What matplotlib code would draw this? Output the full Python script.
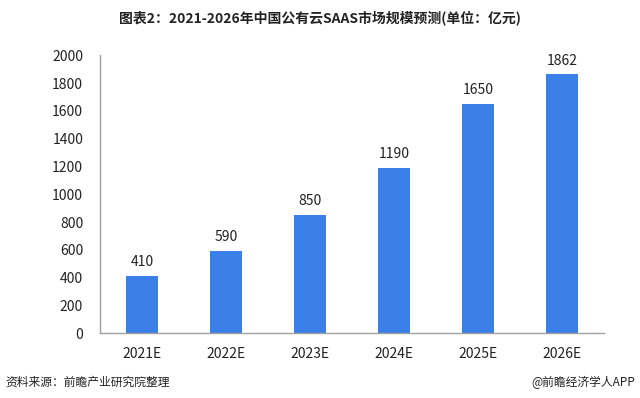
import matplotlib
matplotlib.use("Agg")
from matplotlib import pyplot as plt

plt.rcParams['font.family'] = ['Noto Sans CJK SC', 'DejaVu Sans']

years = ["2021E", "2022E", "2023E", "2024E", "2025E", "2026E"]
market_size = [410, 590, 850, 1190, 1650, 1862]
y_ticks = [0, 200, 400, 600, 800, 1000, 1200, 1400, 1600, 1800, 2000]

fig = plt.figure(figsize=(6.4, 3.98), dpi=100)
ax = fig.add_axes([0.156, 0.163, 0.7875, 0.698])

x = list(range(len(years)))
bars = ax.bar(x, market_size, width=0.38, color="#3a80e8")
for xi, v in zip(x, market_size):
    ax.text(xi, v + 50, str(v), ha="center", va="bottom", fontsize=10, color="#222222")

ax.set_xlim(-0.5, len(years) - 0.5)
ax.set_ylim(0, 2000)
ax.set_yticks(y_ticks)
ax.set_xticks(x)
ax.set_xticklabels(years)
ax.tick_params(axis="both", length=0, labelsize=10, colors="#222222")
ax.tick_params(axis="x", pad=10)
ax.tick_params(axis="y", pad=12)

for side in ["top", "right"]:
    ax.spines[side].set_visible(False)
for side in ["left", "bottom"]:
    ax.spines[side].set_color("#a0a0a0")
    ax.spines[side].set_linewidth(1)

fig.text(0.5, 0.955, "图表2：2021-2026年中国公有云SAAS市场规模预测(单位：亿元)",
         ha="center", va="center", fontsize=10, fontweight="bold", color="#222222")
fig.text(0.008, 0.04, "资料来源：前瞻产业研究院整理", ha="left", va="center",
         fontsize=8.5, color="#222222")
fig.text(0.992, 0.04, "@前瞻经济学人APP", ha="right", va="center",
         fontsize=8.5, color="#222222")

fig.savefig("out.png", dpi=100)
